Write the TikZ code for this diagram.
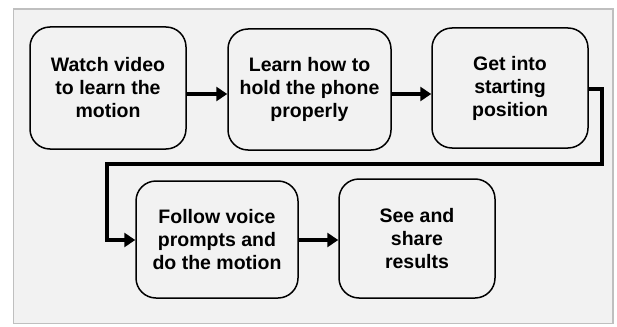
\documentclass[tikz,border=0pt]{standalone}
\usepackage{fontspec}
\setmainfont{Liberation Sans}
\usetikzlibrary{arrows.meta}
\definecolor{panelbg}{HTML}{F2F2F2}
\definecolor{panelrule}{HTML}{BFBFBF}
\begin{document}
\begin{tikzpicture}[x=1pt,y=-1pt,
  stepbox/.style={draw=black,line width=1.5pt,rounded corners=20pt,fill=panelbg,
    align=center,font=\bfseries\fontsize{19.5}{23}\selectfont,inner sep=0pt},
  flow/.style={line width=4pt,-{Triangle[length=11pt,width=14pt]}}]
\useasboundingbox (0,0) rectangle (617,326);
\draw[panelrule,fill=panelbg,line width=1.5pt] (13.5,9) rectangle (613,323.5);
\node[stepbox,minimum width=156pt,minimum height=122pt] (b1) at (108,88) {Watch video\\to learn the\\motion};
\node[stepbox,minimum width=163pt,minimum height=121pt] (b2) at (309.5,89.5) {Learn how to\\hold the phone\\properly};
\node[stepbox,minimum width=156pt,minimum height=120pt] (b3) at (510,88) {Get into\\starting\\position};
\node[stepbox,minimum width=162pt,minimum height=117pt] (b4) at (217,239.5) {Follow voice\\prompts and\\do the motion};
\node[stepbox,minimum width=156pt,minimum height=119pt] (b5) at (417,238.5) {See and\\share\\results};
\draw[flow] (b1.east |- 0,94) -- (b2.west |- 0,94);
\draw[flow] (b2.east |- 0,94) -- (b3.west |- 0,94);
\coordinate (c1) at (602,89);
\coordinate (c2) at (602,164);
\coordinate (c3) at (107,164);
\coordinate (c4) at (107,240);
\draw[flow,line join=miter] (b3.east |- c1) -- (c1) -- (c2) -- (c3) -- (c4) -- (b4.west |- c4);
\draw[flow] (b4.east |- 0,240) -- (b5.west |- 0,240);
\end{tikzpicture}
\end{document}
